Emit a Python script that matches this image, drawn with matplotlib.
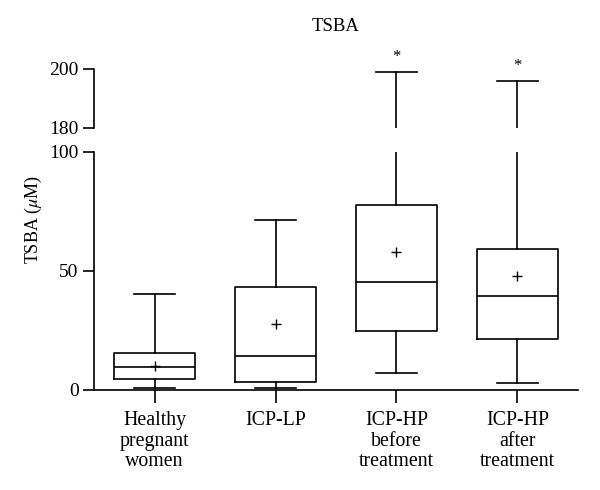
import matplotlib.pyplot as plt
import numpy as np

plt.rcParams['font.family'] = ['Liberation Serif', 'DejaVu Serif']
plt.rcParams['mathtext.fontset'] = 'stix'

# values (TSBA, uM)
groups = ['Healthy\npregnant\nwomen', 'ICP-LP', 'ICP-HP\nbefore\ntreatment', 'ICP-HP\nafter\ntreatment']
whislo = [1.0, 1.0, 7.0, 3.1]
q1 = [4.8, 3.5, 24.7, 21.4]
med = [9.8, 14.1, 45.5, 39.6]
q3 = [15.5, 43.3, 77.7, 59.1]
whishi = [40.3, 71.4, 199.0, 196.0]
means = [10.1, 27.7, 58.1, 47.9]
starred = [False, False, True, True]

stats = []
for i in range(len(groups)):
    stats.append(dict(whislo=whislo[i], q1=q1[i], med=med[i], q3=q3[i],
                      whishi=whishi[i], mean=means[i], fliers=[]))

fig = plt.figure(figsize=(6, 4.9), dpi=100)
ax_lo = fig.add_axes([0.1567, 0.2041, 0.8066, 0.4857])
ax_hi = fig.add_axes([0.1567, 0.7388, 0.8066, 0.1204])

lw = 1.2
line = dict(color='black', linewidth=lw)
pos = np.arange(len(groups))
for ax in (ax_lo, ax_hi):
    ax.bxp(stats, positions=pos, widths=0.67, showmeans=True, showfliers=False,
           boxprops=line, whiskerprops=line, capprops=line,
           medianprops=line,
           meanprops=dict(marker='+', markeredgecolor='black', markersize=7,
                          markeredgewidth=1.0))
    ax.set_xlim(-0.5, 3.5)
    for s in ('top', 'right'):
        ax.spines[s].set_visible(False)
    ax.spines['left'].set_linewidth(lw)
    ax.spines['bottom'].set_linewidth(lw)
    ax.tick_params(axis='both', direction='out', length=8, width=lw,
                   labelsize=14, pad=3)

ax_lo.set_ylim(0, 100)
ax_lo.set_yticks([0, 50, 100])
ax_lo.set_xticks(pos)
ax_lo.set_xticklabels(groups, fontsize=14.3, linespacing=1.12)
ax_lo.tick_params(axis='x', length=9, pad=6)

ax_hi.set_ylim(180, 200)
ax_hi.set_yticks([180, 200])
ax_hi.spines['bottom'].set_visible(False)
ax_hi.set_xticks([])

for i in range(len(groups)):
    if starred[i]:
        ax_hi.annotate('*', (pos[i], whishi[i]), xytext=(0, 11), textcoords='offset points',
                       ha='center', va='center', fontsize=12, annotation_clip=False)

ax_hi.set_title('TSBA', fontsize=13.5, pad=27)
fig.text(0.055, 1 - 219 / 490, r'TSBA ($\mu$M)', rotation=90, fontsize=13,
         ha='center', va='center')

fig.savefig('out.png', dpi=100)
